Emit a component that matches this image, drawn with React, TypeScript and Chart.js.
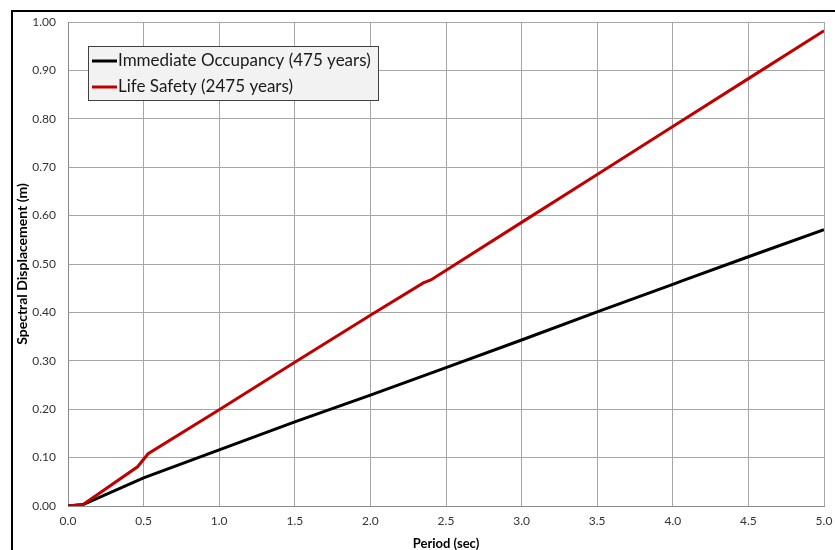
import React, { useEffect, useRef } from "react";
import { Chart, registerables } from "chart.js";

Chart.register(...registerables);

// Immediate Occupancy (475 years)
const periodsIO = [0, 0.1, 0.5, 1.0, 1.5, 2.0, 2.5, 3.0, 3.5, 4.0, 4.07, 4.5, 5.0];
const sdIO = [0, 0.003, 0.058, 0.116, 0.174, 0.229, 0.286, 0.343, 0.401, 0.458, 0.466, 0.515, 0.571];

// Life Safety (2475 years)
const periodsLS = [0, 0.1, 0.46, 0.53, 1.0, 1.5, 2.0, 2.35, 2.4, 3.0, 3.5, 4.0, 4.5, 5.0];
const sdLS = [0, 0.003, 0.081, 0.108, 0.199, 0.297, 0.394, 0.461, 0.467, 0.586, 0.685, 0.784, 0.883, 0.982];

const seriesLabels = ["Immediate Occupancy (475 years)", "Life Safety (2475 years)"];
const xTitle = "Period (sec)";
const yTitle = "Spectral Displacement (m)";

const FONT = "Lato, 'Open Sans', sans-serif";

const insideLegend = {
  id: "insideLegend",
  afterDraw(chart: any) {
    const ctx = chart.ctx;
    const x = 88, y = 46, w = 290, h = 54;
    ctx.save();
    ctx.fillStyle = "#f2f2f2";
    ctx.fillRect(x, y, w, h);
    ctx.strokeStyle = "#404040";
    ctx.lineWidth = 1;
    ctx.strokeRect(x + 0.5, y + 0.5, w, h);
    ctx.font = "17px " + FONT;
    ctx.textBaseline = "middle";
    ctx.textAlign = "left";
    chart.data.datasets.forEach((ds: any, i: number) => {
      const cy = y + 15 + i * 26;
      ctx.strokeStyle = ds.borderColor;
      ctx.lineWidth = 3;
      ctx.beginPath();
      ctx.moveTo(x + 4, cy);
      ctx.lineTo(x + 29, cy);
      ctx.stroke();
      ctx.fillStyle = "#1a1a1a";
      ctx.fillText(ds.label, x + 30, cy);
    });
    ctx.restore();
  },
};

export default function App() {
  const ref = useRef<HTMLCanvasElement>(null);
  useEffect(() => {
    if (!ref.current) return;
    const chart = new Chart(ref.current, {
      type: "line",
      data: {
        datasets: [
          {
            label: seriesLabels[0],
            data: periodsIO.map((p, i) => ({ x: p, y: sdIO[i] })),
            borderColor: "#000000",
            backgroundColor: "#000000",
            borderWidth: 3,
            pointRadius: 0,
            tension: 0,
            order: 1,
          },
          {
            label: seriesLabels[1],
            data: periodsLS.map((p, i) => ({ x: p, y: sdLS[i] })),
            borderColor: "#c00000",
            backgroundColor: "#c00000",
            borderWidth: 3,
            pointRadius: 0,
            tension: 0,
            order: 0,
          },
        ],
      },
      options: {
        responsive: false,
        animation: false,
        devicePixelRatio: 1,
        layout: { padding: { left: 12, top: 22, right: 11, bottom: 0 } },
        plugins: { legend: { display: false }, tooltip: { enabled: false } },
        scales: {
          x: {
            type: "linear",
            min: 0,
            max: 5,
            afterFit: (s: any) => { s.height = 44; s.paddingRight = 0; s.paddingLeft = 0; },
            grid: { color: "#a6a6a6", drawTicks: false, lineWidth: 1 },
            border: { color: "#8c8c8c", width: 1 },
            ticks: {
              stepSize: 0.5,
              padding: 8,
              color: "#333333",
              font: { family: FONT, size: 12 },
              callback: (v: any) => Number(v).toFixed(1),
            },
            title: {
              display: true,
              text: xTitle,
              color: "#000000",
              font: { family: FONT, size: 13, weight: "bold", lineHeight: 1 },
              padding: { top: 0, bottom: 0 },
            },
          },
          y: {
            min: 0,
            max: 1,
            afterFit: (s: any) => { s.width = 56; s.paddingTop = 0; s.paddingBottom = 0; },
            grid: { color: "#a6a6a6", drawTicks: false, lineWidth: 1 },
            border: { color: "#8c8c8c", width: 1 },
            ticks: {
              stepSize: 0.1,
              padding: 12,
              color: "#333333",
              font: { family: FONT, size: 12 },
              callback: (v: any) => Number(v).toFixed(2),
            },
            title: {
              display: true,
              text: yTitle,
              color: "#000000",
              font: { family: FONT, size: 14, weight: "bold", lineHeight: 1.2 },
              padding: { top: 2, bottom: 0 },
            },
          },
        },
      },
      plugins: [insideLegend],
    });
    return () => chart.destroy();
  }, []);

  return (
    <div style={{ position: "fixed", left: 0, top: 0, width: 835, height: 550, background: "#ffffff", overflow: "hidden" }}>
      <canvas ref={ref} width={835} height={550} style={{ position: "absolute", left: 0, top: 0 }} />
      <div
        style={{
          position: "absolute",
          left: 11,
          top: 10,
          width: 900,
          height: 600,
          borderLeft: "2px solid #000",
          borderTop: "2px solid #000",
          pointerEvents: "none",
        }}
      />
    </div>
  );
}
